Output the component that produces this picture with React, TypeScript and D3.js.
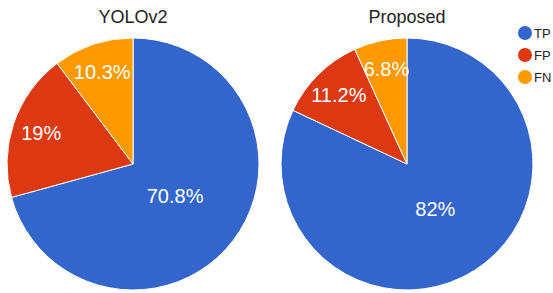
import React from "react";
import * as d3 from "d3";

// categories and values (percent)
const categories = ["TP", "FP", "FN"];
const colors = ["#3366cc", "#dc3912", "#ff9900"];
const chartTitles = ["YOLOv2", "Proposed"];
const yoloValues = [70.8, 19, 10.3];
const proposedValues = [82, 11.2, 6.8];

const W = 553;
const H = 293;
const radius = 126;
const centers = [133, 407];
const cy = 164;

function Pie({ title, values, cx }: { title: string; values: number[]; cx: number }) {
  const total = d3.sum(values);
  const pieGen = d3.pie<number>().sort(null).value((d) => d);
  const arcs = pieGen(values);
  const arcGen = d3.arc<d3.PieArcDatum<number>>().innerRadius(0).outerRadius(radius);

  return (
    <g transform={`translate(${cx},${cy})`}>
      <text
        x={0}
        y={23 - cy}
        textAnchor="middle"
        fontFamily="'Liberation Sans', Arial, sans-serif"
        fontSize={18}
        fill="#222"
      >
        {title}
      </text>
      {arcs.map((a, i) => (
        <path key={i} d={arcGen(a) || ""} fill={colors[i]} stroke="#fff" strokeWidth={1} />
      ))}
      {arcs.map((a, i) => {
        const share = a.value / total;
        const frac = share > 0.5 ? 0.42 : 0.77;
        const mid = (a.startAngle + a.endAngle) / 2;
        const lx = Math.sin(mid) * radius * frac;
        const ly = -Math.cos(mid) * radius * frac;
        return (
          <text
            key={"l" + i}
            x={lx}
            y={ly}
            dy="0.36em"
            textAnchor="middle"
            fontFamily="'Liberation Sans', Arial, sans-serif"
            fontSize={20}
            fill="#fff"
          >
            {`${values[i]}%`}
          </text>
        );
      })}
    </g>
  );
}

export default function App() {
  const legendY = d3.scalePoint<string>().domain(categories).range([33, 77]);
  return (
    <svg
      width={W}
      height={H}
      style={{ position: "absolute", left: 0, top: 0, background: "#fff" }}
    >
      <Pie title={chartTitles[0]} values={yoloValues} cx={centers[0]} />
      <Pie title={chartTitles[1]} values={proposedValues} cx={centers[1]} />
      <g>
        {categories.map((c, i) => (
          <g key={c} transform={`translate(525,${legendY(c)})`}>
            <circle r={7} fill={colors[i]} />
            <text
              x={9}
              dy="0.36em"
              fontFamily="'Liberation Sans', Arial, sans-serif"
              fontSize={13}
              fill="#222"
            >
              {c}
            </text>
          </g>
        ))}
      </g>
    </svg>
  );
}
